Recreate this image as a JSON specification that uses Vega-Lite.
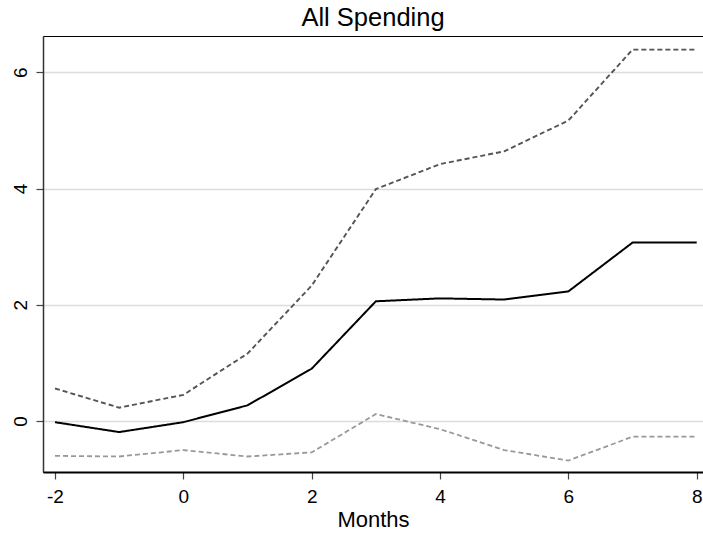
{
  "$schema": "https://vega.github.io/schema/vega-lite/v6.json",
  "width": 660,
  "height": 436,
  "autosize": {"type": "none"},
  "padding": {"left": 43, "top": 36, "right": 0, "bottom": 66},
  "background": "white",
  "config": {
    "font": "Liberation Sans",
    "view": {"stroke": "black", "strokeWidth": 1},
    "title": {"fontSize": 25.5, "fontWeight": "normal", "color": "black", "baseline": "alphabetic", "offset": 4.5}
  },
  "title": {"text": "All Spending"},
  "data": {
    "values": [
      {"month": -2, "series": "est", "value": -0.02},
      {"month": -1, "series": "est", "value": -0.19},
      {"month": 0, "series": "est", "value": -0.02},
      {"month": 1, "series": "est", "value": 0.27},
      {"month": 2, "series": "est", "value": 0.90},
      {"month": 3, "series": "est", "value": 2.06},
      {"month": 4, "series": "est", "value": 2.11},
      {"month": 5, "series": "est", "value": 2.09},
      {"month": 6, "series": "est", "value": 2.23},
      {"month": 7, "series": "est", "value": 3.07},
      {"month": 8, "series": "est", "value": 3.07},
      {"month": -2, "series": "upper", "value": 0.56},
      {"month": -1, "series": "upper", "value": 0.23},
      {"month": 0, "series": "upper", "value": 0.45},
      {"month": 1, "series": "upper", "value": 1.16},
      {"month": 2, "series": "upper", "value": 2.33},
      {"month": 3, "series": "upper", "value": 3.99},
      {"month": 4, "series": "upper", "value": 4.42},
      {"month": 5, "series": "upper", "value": 4.64},
      {"month": 6, "series": "upper", "value": 5.17},
      {"month": 7, "series": "upper", "value": 6.39},
      {"month": 8, "series": "upper", "value": 6.39},
      {"month": -2, "series": "lower", "value": -0.60},
      {"month": -1, "series": "lower", "value": -0.61},
      {"month": 0, "series": "lower", "value": -0.50},
      {"month": 1, "series": "lower", "value": -0.61},
      {"month": 2, "series": "lower", "value": -0.54},
      {"month": 3, "series": "lower", "value": 0.12},
      {"month": 4, "series": "lower", "value": -0.14},
      {"month": 5, "series": "lower", "value": -0.50},
      {"month": 6, "series": "lower", "value": -0.68},
      {"month": 7, "series": "lower", "value": -0.27},
      {"month": 8, "series": "lower", "value": -0.27}
    ]
  },
  "mark": {"type": "line", "clip": true},
  "encoding": {
    "x": {
      "field": "month", "type": "quantitative", "title": "Months",
      "scale": {"domain": [-2.187, 8.098], "nice": false, "zero": false},
      "axis": {
        "values": [-2, 0, 2, 4, 6, 8], "grid": false,
        "labelExpr": "'' + datum.value",
        "domainColor": "black", "domainWidth": 2,
        "tickColor": "#444", "tickWidth": 1.2, "tickSize": 7,
        "labelFontSize": 19, "labelColor": "black", "labelPadding": 8,
        "titleFontSize": 22, "titleFontWeight": "normal", "titleColor": "black", "titlePadding": 3.5
      }
    },
    "y": {
      "field": "value", "type": "quantitative", "title": null,
      "scale": {"domain": [-0.877, 6.624], "nice": false, "zero": false},
      "axis": {
        "values": [0, 2, 4, 6], "grid": true, "gridColor": "#dcdcdc", "gridWidth": 1.5,
        "labelExpr": "'' + datum.value",
        "domainColor": "#333", "domainWidth": 1.5,
        "tickColor": "#444", "tickWidth": 1.2, "tickSize": 7,
        "labelFontSize": 19, "labelColor": "black", "labelAngle": -90,
        "labelAlign": "center", "labelBaseline": "alphabetic", "labelPadding": 10
      }
    },
    "detail": {"field": "series"},
    "color": {
      "field": "series", "type": "nominal", "legend": null,
      "scale": {"domain": ["est", "upper", "lower"], "range": ["black", "#555555", "#999999"]}
    },
    "strokeDash": {
      "field": "series", "type": "nominal", "legend": null,
      "scale": {"domain": ["est", "upper", "lower"], "range": [[1, 0], [5, 3], [5, 3]]}
    },
    "strokeWidth": {
      "field": "series", "type": "nominal", "legend": null,
      "scale": {"domain": ["est", "upper", "lower"], "range": [2, 1.8, 1.8]}
    }
  }
}
